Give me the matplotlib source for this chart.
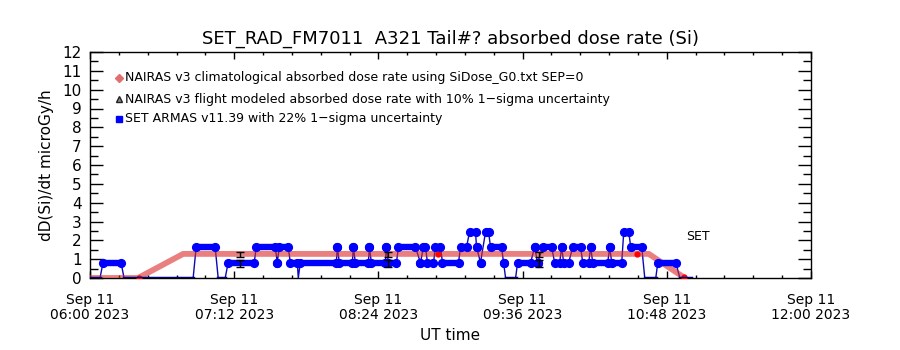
import matplotlib
matplotlib.use('Agg')
import matplotlib.pyplot as plt
from matplotlib.ticker import MultipleLocator, FixedLocator

# time axis: minutes after 2023-09-11 06:00 UT
L0, L1, L2, L3 = 0.0, 0.82, 1.63, 2.45

# SET ARMAS absorbed dose rate: runs of constant level (start min, end min, level)
set_start = [0, 6.5, 17, 53, 64, 69, 83, 93.5, 94.5, 100, 104, 105, 123.5, 124.5, 131.5,
             132.5, 139.5, 140.5, 148, 149, 154, 165, 166.5, 168.5, 172.5, 176, 185,
             189.5, 193, 195, 197.5, 200, 206.5, 207.5, 213.5, 222, 223.5, 226, 232,
             235.5, 236.5, 241, 246, 250, 251, 259.5, 260.5, 266.5, 270, 277, 283.5, 294.5]
set_end = [5, 15.5, 51.5, 62.5, 67.5, 82, 92.5, 93.5, 99, 103.5, 104, 123, 123.5, 131, 131.5,
           139, 139.5, 147.5, 148, 153, 162.5, 165, 167.5, 171.5, 175, 184, 188,
           192.5, 193, 195, 199, 205.5, 206.5, 212.5, 220, 222, 223.5, 230.5, 234.5,
           235.5, 239, 245, 249, 250, 258.5, 259.5, 265.5, 269, 275.5, 282.5, 292.5, 300]
set_level = [L0, L1, L0, L2, L0, L1, L2, L1, L2, L1, L0, L1, L2, L1, L2,
             L1, L2, L1, L2, L1, L2, L1, L2, L1, L2, L1, L2,
             L3, L2, L1, L3, L2, L1, L0, L1, L2, L1, L2, L1,
             L2, L1, L2, L1, L2, L1, L2, L1, L3, L2, L0, L1, L0]

# NAIRAS v3 climatological absorbed dose rate
clim_t = [0, 24, 46.5, 279, 297]
clim_v = [0.0, 0.0, 1.28, 1.28, 0.0]

# NAIRAS v3 flight modeled points
flight_t = [24.5, 174, 273, 296.5]
flight_v = [0.0, 1.28, 1.28, 0.07]

# error bars
err_t = [75, 149, 224]
nairas_err_v = [1.25, 1.25, 1.25]
nairas_err = [0.12, 0.12, 0.12]
set_err_v = [0.76, 0.76, 0.76]
set_err = [0.18, 0.18, 0.18]

xtick_pos = [0, 72, 144, 216, 288, 360]
xtick_labels = ['Sep 11\n06:00 2023', 'Sep 11\n07:12 2023', 'Sep 11\n08:24 2023',
                'Sep 11\n09:36 2023', 'Sep 11\n10:48 2023', 'Sep 11\n12:00 2023']

legend_labels = ['NAIRAS v3 climatological absorbed dose rate using SiDose_G0.txt SEP=0',
                 'NAIRAS v3 flight modeled absorbed dose rate with 10% 1\u2212sigma uncertainty',
                 'SET ARMAS v11.39 with 22% 1\u2212sigma uncertainty']

BLUE = '#0000ff'
CONN = '#0a0ab4'
RED = '#dd2a2a'

fig = plt.figure(figsize=(9, 3.5), dpi=100)
ax = fig.add_axes([90 / 900, 1 - 278 / 350, 721 / 900, 226 / 350])

# connectors (thin line through all runs)
xs, ys = [], []
for s, e, lv in zip(set_start, set_end, set_level):
    xs += [s, e]
    ys += [lv, lv]
ax.plot(xs, ys, color=CONN, lw=1.0, zorder=2)

# climatological thick band
ax.plot(clim_t, clim_v, color=RED, lw=4.2, alpha=0.6, zorder=3, solid_capstyle='butt')

# flight modeled points
ax.plot(flight_t, flight_v, 'o', color='#ff0000', ms=3.5, zorder=4, ls='none')

# SET markers
for s, e, lv in zip(set_start, set_end, set_level):
    if lv == 0:
        ax.plot([s, e], [lv, lv], color='#000080', lw=2.5, zorder=5)
    else:
        ax.plot([s, e], [lv, lv], color=BLUE, lw=4.6, marker='o', ms=5.6,
                solid_capstyle='round', zorder=5)

# error bars
ax.errorbar(err_t, nairas_err_v, yerr=nairas_err, fmt='none', ecolor='black',
            elinewidth=1, capsize=3, capthick=1, zorder=6)
ax.errorbar(err_t, set_err_v, yerr=set_err, fmt='none', ecolor='black',
            elinewidth=1, capsize=3, capthick=1, zorder=6)

ax.text(297.5, 2.18, 'SET', fontsize=9, ha='left', va='center')

# legend (drawn as text entries)
leg_y = [0.885, 0.79, 0.705]
leg_mk = [dict(marker='D', color='#e07070', ms=4),
          dict(marker='^', color='#888888', mec='#222222', ms=4.5),
          dict(marker='s', color=BLUE, ms=4.5)]
for yy, lab, mk in zip(leg_y, legend_labels, leg_mk):
    ax.plot([0.04], [yy], transform=ax.transAxes, ls='none', clip_on=False, **mk)
    ax.text(0.049, yy, lab, transform=ax.transAxes, fontsize=9.0, va='center', ha='left')

ax.set_xlim(0, 360)
ax.set_ylim(0, 12)
ax.xaxis.set_major_locator(FixedLocator(xtick_pos))
ax.set_xticklabels(xtick_labels, fontsize=10, linespacing=1.1)
ax.xaxis.set_minor_locator(MultipleLocator(14.4))
ax.yaxis.set_major_locator(MultipleLocator(1))
ax.yaxis.set_minor_locator(MultipleLocator(0.5))
ax.tick_params(axis='y', which='major', direction='in', length=9.5, width=1,
               left=True, right=True, labelsize=11, pad=6)
ax.tick_params(axis='y', which='minor', direction='in', length=5.8, width=1,
               left=True, right=True)
ax.tick_params(axis='x', which='major', direction='in', length=5, width=1,
               bottom=True, top=True, pad=11)
ax.tick_params(axis='x', which='minor', direction='in', length=2.5, width=1,
               bottom=True, top=True)
for sp in ax.spines.values():
    sp.set_linewidth(1)

ax.set_xlabel('UT time', fontsize=11, labelpad=4)
ax.set_ylabel('dD(Si)/dt microGy/h', fontsize=11, labelpad=6)
ax.set_title('SET_RAD_FM7011  A321 Tail#? absorbed dose rate (Si)', fontsize=13, pad=6)

fig.savefig('out.png', dpi=100)
